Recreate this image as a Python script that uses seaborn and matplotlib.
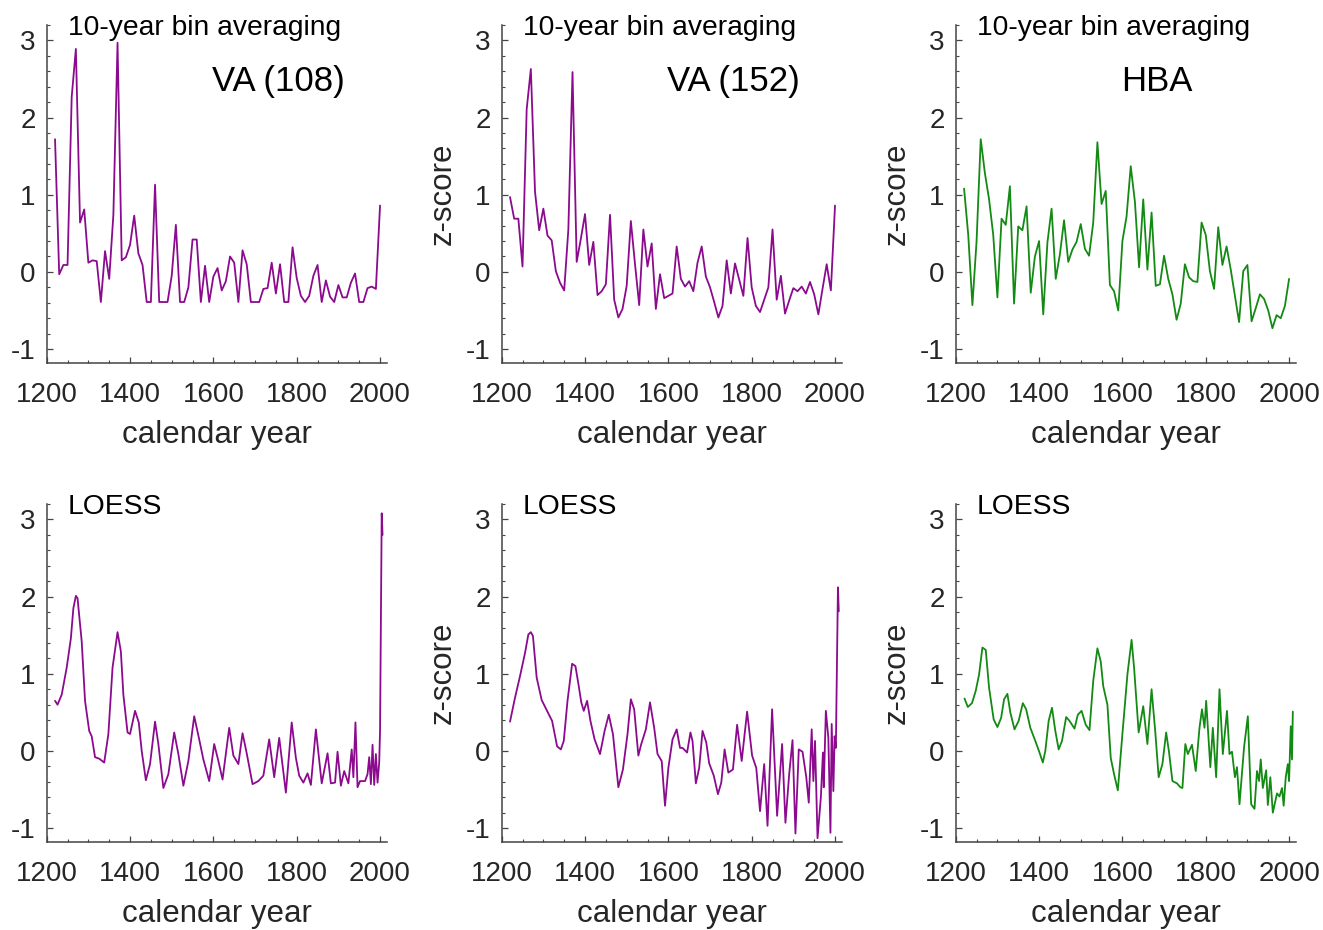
import numpy as np
import pandas as pd
import matplotlib
matplotlib.use("Agg")
import matplotlib.pyplot as plt
import seaborn as sns
from matplotlib.ticker import MultipleLocator

# 10-year bins (1220 ... 2000)
bin_years = np.arange(1220, 2001, 10)

va108_bin = [1.72, -0.03, 0.09, 0.09, 2.27, 2.89, 0.64, 0.81, 0.12, 0.15,
             0.14, -0.39, 0.27, -0.09, 0.74, 2.97, 0.15, 0.19, 0.35, 0.73,
             0.24, 0.09, -0.39, -0.39, 1.13, -0.39, -0.39, -0.39, -0.05, 0.61,
             -0.39, -0.39, -0.20, 0.42, 0.42, -0.39, 0.08, -0.39, -0.06, 0.05,
             -0.24, -0.12, 0.20, 0.12, -0.39, 0.28, 0.10, -0.39, -0.39, -0.39,
             -0.22, -0.21, 0.12, -0.28, 0.10, -0.39, -0.39, 0.32, -0.08, -0.31,
             -0.39, -0.31, -0.05, 0.09, -0.39, -0.11, -0.32, -0.39, -0.17, -0.33,
             -0.33, -0.14, -0.02, -0.39, -0.39, -0.21, -0.19, -0.22, 0.86]

va152_bin = [0.97, 0.69, 0.69, 0.07, 2.11, 2.63, 1.04, 0.54, 0.82, 0.47,
             0.41, 0.01, -0.14, -0.24, 0.55, 2.59, 0.13, 0.43, 0.75, 0.09,
             0.39, -0.30, -0.25, -0.16, 0.74, -0.36, -0.59, -0.48, -0.18, 0.66,
             0.10, -0.43, 0.55, 0.07, 0.37, -0.48, -0.03, -0.34, -0.31, -0.28,
             0.33, -0.09, -0.19, -0.12, -0.25, 0.12, 0.33, -0.06, -0.20, -0.39,
             -0.59, -0.44, 0.15, -0.28, 0.11, -0.10, -0.31, 0.44, -0.20, -0.44,
             -0.52, -0.36, -0.20, 0.55, -0.36, -0.05, -0.54, -0.37, -0.21, -0.25,
             -0.19, -0.28, -0.13, -0.29, -0.55, -0.22, 0.10, -0.24, 0.86]

hba_bin = [1.08, 0.48, -0.43, 0.40, 1.72, 1.28, 0.94, 0.48, -0.33, 0.69,
           0.61, 1.11, -0.41, 0.59, 0.54, 0.85, -0.27, 0.20, 0.40, -0.55,
           0.38, 0.82, -0.09, 0.23, 0.67, 0.13, 0.29, 0.39, 0.62, 0.30,
           0.21, 0.64, 1.68, 0.88, 1.05, -0.17, -0.25, -0.50, 0.40, 0.72,
           1.37, 0.91, 0.06, 0.94, 0.03, 0.77, -0.18, -0.16, 0.21, -0.09,
           -0.29, -0.62, -0.41, 0.10, -0.07, -0.12, -0.13, 0.64, 0.48, 0.01,
           -0.22, 0.58, 0.09, 0.33, 0.03, -0.31, -0.65, 0.01, 0.09, -0.64,
           -0.47, -0.29, -0.35, -0.50, -0.73, -0.56, -0.60, -0.44, -0.09]

# LOESS curves
loess_va108_years = [1220, 1226, 1236, 1248, 1258, 1264, 1270, 1274, 1284, 1292,
                     1302, 1308, 1316, 1326, 1338, 1348, 1358, 1370, 1378, 1384,
                     1394, 1400, 1412, 1421, 1428, 1438, 1448, 1460, 1468, 1480,
                     1492, 1506, 1516, 1528, 1540, 1554, 1566, 1576, 1590, 1602,
                     1612, 1622, 1638, 1648, 1660, 1670, 1680, 1694, 1708, 1720,
                     1734, 1746, 1758, 1774, 1788, 1798, 1806, 1816, 1826, 1834,
                     1846, 1860, 1874, 1882, 1892, 1898, 1906, 1914, 1924, 1932,
                     1936, 1941, 1946, 1952, 1964, 1970, 1974, 1978, 1982, 1986,
                     1990, 1994, 1998, 2000, 2004, 2006]
loess_va108 = [0.65, 0.60, 0.73, 1.08, 1.46, 1.85, 2.01, 1.98, 1.42, 0.65,
               0.26, 0.19, -0.08, -0.10, -0.15, 0.22, 1.08, 1.54, 1.29, 0.73,
               0.24, 0.22, 0.52, 0.37, 0.00, -0.38, -0.17, 0.38, 0.09, -0.48,
               -0.30, 0.24, -0.04, -0.45, -0.13, 0.45, 0.15, -0.11, -0.39, 0.09,
               -0.13, -0.37, 0.30, -0.06, -0.17, 0.23, -0.03, -0.43, -0.39, -0.32,
               0.15, -0.34, 0.17, -0.54, 0.37, -0.09, -0.32, -0.41, -0.29, -0.44,
               0.28, -0.42, -0.03, -0.42, -0.41, -0.01, -0.45, -0.26, -0.42, 0.02,
               -0.34, 0.37, -0.47, -0.39, -0.39, -0.30, -0.08, -0.43, 0.08, -0.44,
               -0.04, -0.41, -0.15, 0.26, 3.08, 2.80]

loess_va152_years = [1220, 1232, 1244, 1256, 1264, 1270, 1275, 1284, 1296, 1307,
                     1321, 1333, 1342, 1349, 1358, 1369, 1377, 1385, 1391, 1397,
                     1405, 1413, 1423, 1436, 1447, 1457, 1467, 1480, 1491, 1502,
                     1510, 1518, 1528, 1535, 1546, 1556, 1566, 1574, 1584, 1592,
                     1600, 1610, 1620, 1628, 1634, 1645, 1653, 1658, 1666, 1674,
                     1682, 1691, 1698, 1709, 1719, 1727, 1735, 1744, 1755, 1765,
                     1776, 1789, 1801, 1811, 1820, 1830, 1838, 1849, 1861, 1873,
                     1881, 1890, 1898, 1905, 1913, 1922, 1931, 1937, 1944, 1948,
                     1952, 1958, 1966, 1971, 1973, 1978, 1984, 1989, 1992, 1996,
                     1999, 2002, 2007, 2009]
loess_va152 = [0.38, 0.69, 0.97, 1.27, 1.51, 1.54, 1.49, 0.95, 0.66, 0.54,
               0.39, 0.06, 0.02, 0.13, 0.65, 1.13, 1.10, 0.84, 0.63, 0.52,
               0.65, 0.39, 0.15, -0.04, 0.26, 0.47, 0.22, -0.47, -0.24, 0.22,
               0.67, 0.54, -0.06, 0.09, 0.28, 0.63, 0.30, -0.04, -0.13, -0.71,
               -0.22, 0.15, 0.28, 0.04, 0.04, -0.02, 0.24, 0.13, -0.42, -0.22,
               0.26, 0.11, -0.16, -0.32, -0.56, -0.41, 0.02, -0.28, -0.24, 0.34,
               -0.13, 0.51, -0.06, -0.22, -0.78, -0.17, -0.97, 0.54, -0.84, 0.09,
               -0.93, -0.30, 0.14, -1.07, 0.02, -0.01, -0.34, -0.67, 0.28, -0.39,
               0.13, -1.13, -0.60, -0.02, -0.47, 0.52, 0.17, -1.06, 0.35, -0.52,
               0.19, 0.04, 2.12, 1.81]

loess_hba_years = [1221, 1229, 1239, 1248, 1256, 1264, 1272, 1280, 1291, 1300,
                   1309, 1316, 1324, 1331, 1341, 1351, 1361, 1369, 1379, 1391,
                   1401, 1409, 1415, 1423, 1431, 1439, 1447, 1455, 1465, 1473,
                   1485, 1493, 1502, 1512, 1521, 1530, 1540, 1548, 1554, 1564,
                   1572, 1580, 1589, 1600, 1612, 1622, 1628, 1639, 1650, 1660,
                   1670, 1679, 1687, 1696, 1705, 1712, 1720, 1731, 1739, 1744,
                   1751, 1757, 1767, 1776, 1785, 1791, 1797, 1801, 1811, 1817,
                   1825, 1833, 1841, 1851, 1857, 1863, 1870, 1875, 1881, 1892,
                   1901, 1909, 1917, 1923, 1928, 1932, 1937, 1945, 1949, 1955,
                   1961, 1971, 1977, 1983, 1987, 1992, 1997, 2000, 2004, 2007,
                   2009]
loess_hba = [0.68, 0.57, 0.62, 0.78, 0.99, 1.34, 1.31, 0.82, 0.41, 0.31,
             0.43, 0.67, 0.74, 0.50, 0.28, 0.39, 0.62, 0.54, 0.30, 0.13,
             -0.02, -0.15, 0.00, 0.39, 0.56, 0.26, 0.02, 0.13, 0.44, 0.39,
             0.29, 0.47, 0.52, 0.34, 0.27, 0.91, 1.33, 1.16, 0.84, 0.60,
             -0.09, -0.30, -0.51, 0.22, 0.99, 1.44, 1.08, 0.24, 0.58, 0.09,
             0.80, 0.24, -0.34, -0.17, 0.24, -0.02, -0.39, -0.42, -0.47, -0.48,
             0.09, -0.04, 0.08, -0.26, 0.30, 0.54, 0.30, 0.65, -0.21, 0.30,
             -0.34, 0.80, -0.04, 0.52, -0.04, -0.01, -0.34, -0.21, -0.69, 0.05,
             0.45, -0.69, -0.75, -0.26, -0.39, -0.11, -0.48, -0.25, -0.70, -0.34,
             -0.80, -0.55, -0.59, -0.48, -0.71, -0.34, -0.17, -0.39, 0.32, -0.11,
             0.51]

purple = "#8b0a8e"
green = "#138a13"

sns.set_theme(style="ticks")
plt.rcParams["font.family"] = ["Liberation Sans", "DejaVu Sans"]
plt.rcParams["axes.unicode_minus"] = False
plt.rcParams["xtick.direction"] = "in"
plt.rcParams["ytick.direction"] = "in"

fig = plt.figure(figsize=(13.23, 9.3), dpi=100)

lefts = [0.0353, 0.3792, 0.7224]
bottoms = [0.6097, 0.0946]
w, h = 0.257, 0.3634

panels = [
    (0, 0, pd.DataFrame({"year": bin_years, "z": va108_bin}), purple, "10-year bin averaging", "VA (108)", 1757),
    (0, 1, pd.DataFrame({"year": bin_years, "z": va152_bin}), purple, "10-year bin averaging", "VA (152)", 1755),
    (0, 2, pd.DataFrame({"year": bin_years, "z": hba_bin}), green, "10-year bin averaging", "HBA", 1682),
    (1, 0, pd.DataFrame({"year": loess_va108_years, "z": loess_va108}), purple, "LOESS", None, None),
    (1, 1, pd.DataFrame({"year": loess_va152_years, "z": loess_va152}), purple, "LOESS", None, None),
    (1, 2, pd.DataFrame({"year": loess_hba_years, "z": loess_hba}), green, "LOESS", None, None),
]

for row, col, df, color, method, name, name_x in panels:
    ax = fig.add_axes([lefts[col], bottoms[row], w, h])
    sns.lineplot(data=df, x="year", y="z", ax=ax, color=color, lw=1.3,
                 estimator=None, sort=False)
    ax.set_xlim(1200, 2016)
    ax.set_ylim(-1.18, 3.2)
    ax.set_xticks([1200, 1400, 1600, 1800, 2000])
    ax.set_yticks([-1, 0, 1, 2, 3])
    ax.xaxis.set_minor_locator(MultipleLocator(50))
    ax.yaxis.set_minor_locator(MultipleLocator(0.2))
    ax.tick_params(which="major", length=4, width=0.9, colors="#444444",
                   labelcolor="#262626", labelsize=20)
    ax.tick_params(axis="x", which="major", pad=14)
    ax.tick_params(axis="y", which="major", pad=8)
    ax.tick_params(which="minor", length=2.5, width=0.8, colors="#444444")
    sns.despine(ax=ax)
    for s in ["left", "bottom"]:
        ax.spines[s].set_color("#444444")
        ax.spines[s].set_linewidth(1.1)
    ax.set_xlabel("calendar year", fontsize=22.5, color="#262626", labelpad=8)
    if col > 0:
        ax.set_ylabel("z-score", fontsize=22.5, color="#262626", labelpad=6)
    else:
        ax.set_ylabel("")
    ax.text(1251, 3.07, method, fontsize=20.3, color="black", va="baseline",
            ha="left", clip_on=False)
    if name:
        ax.text(name_x, 2.34, name, fontsize=25, color="black",
                va="baseline", ha="center")

fig.savefig("out.png", dpi=100)
